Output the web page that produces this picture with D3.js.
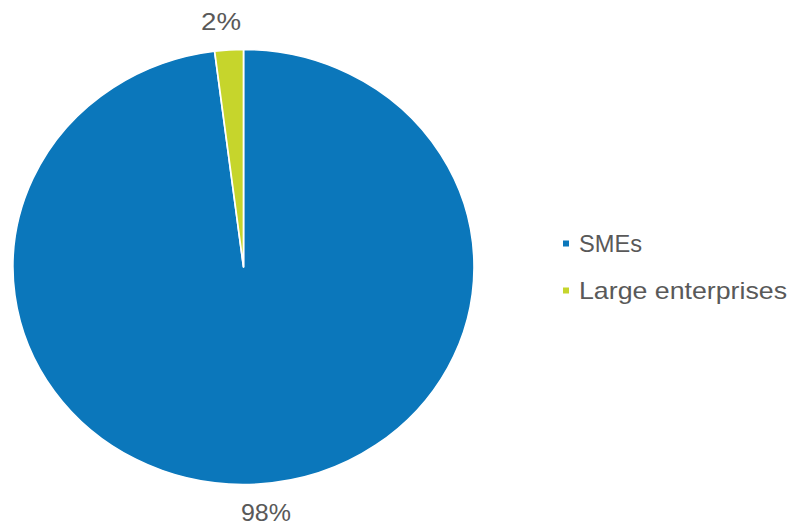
<!DOCTYPE html>
<html>
<head>
<meta charset="utf-8">
<script src="https://cdn.jsdelivr.net/npm/d3@7"></script>
<style>
  body { margin: 0; background: #fff; }
  text { font-family: "Liberation Sans", Arial, sans-serif; fill: #595959; }
</style>
</head>
<body>
<svg id="chart" width="790" height="526"></svg>
<script>
const categories = ['SMEs', 'Large enterprises'];
const values = [98, 2];
const labels = ['98%', '2%'];
const colors = ['#0b77bb', '#c6d52c'];

const width = 790, height = 526;
const cx = 243.5, cy = 267;
const radius = 217.5;
const sx = 1.06; // the reference pie is slightly wider than tall

const svg = d3.select('#chart');

const pie = d3.pie().sort(null).value(d => d.value);
const arcs = pie(categories.map((c, i) => ({ name: c, value: values[i], label: labels[i] })));

const arc = d3.arc().innerRadius(0).outerRadius(radius);
const color = d3.scaleOrdinal().domain(categories).range(colors);

const pieG = svg.append('g')
  .attr('transform', `translate(${cx},${cy}) scale(${sx},1)`);

pieG.selectAll('path')
  .data(arcs)
  .join('path')
    .attr('d', arc)
    .attr('fill', d => color(d.data.name))
    .attr('stroke', '#fff')
    .attr('stroke-width', 1.6)
    .attr('stroke-linejoin', 'round');

// labels outside the slices
const labelR = 246;
const labelSx = 1.45;
svg.selectAll('text.pct')
  .data(arcs)
  .join('text')
    .attr('class', 'pct')
    .attr('x', d => cx + labelSx * labelR * Math.sin((d.startAngle + d.endAngle) / 2))
    .attr('y', d => cy - labelR * Math.cos((d.startAngle + d.endAngle) / 2))
    .attr('dy', '0.35em')
    .attr('text-anchor', 'middle')
    .attr('font-size', 23)
    .attr('textLength', d => d.data.label.length === 2 ? 40 : 50)
    .attr('lengthAdjust', 'spacingAndGlyphs')
    .text(d => d.data.label);

// legend
const legend = svg.append('g').attr('transform', 'translate(563,244)');
const legendY = d3.scalePoint().domain(categories).range([0, 47]);

const item = legend.selectAll('g')
  .data(categories)
  .join('g')
    .attr('transform', d => `translate(0,${legendY(d)})`);

item.append('rect')
  .attr('x', 0).attr('y', -3.5)
  .attr('width', 6).attr('height', 6)
  .attr('fill', d => color(d));

item.append('text')
  .attr('x', 16)
  .attr('y', 0)
  .attr('dy', '0.35em')
  .attr('font-size', 24)
  .attr('textLength', d => d === 'SMEs' ? 63 : 208)
  .attr('lengthAdjust', 'spacingAndGlyphs')
  .text(d => d);
</script>
</body>
</html>
